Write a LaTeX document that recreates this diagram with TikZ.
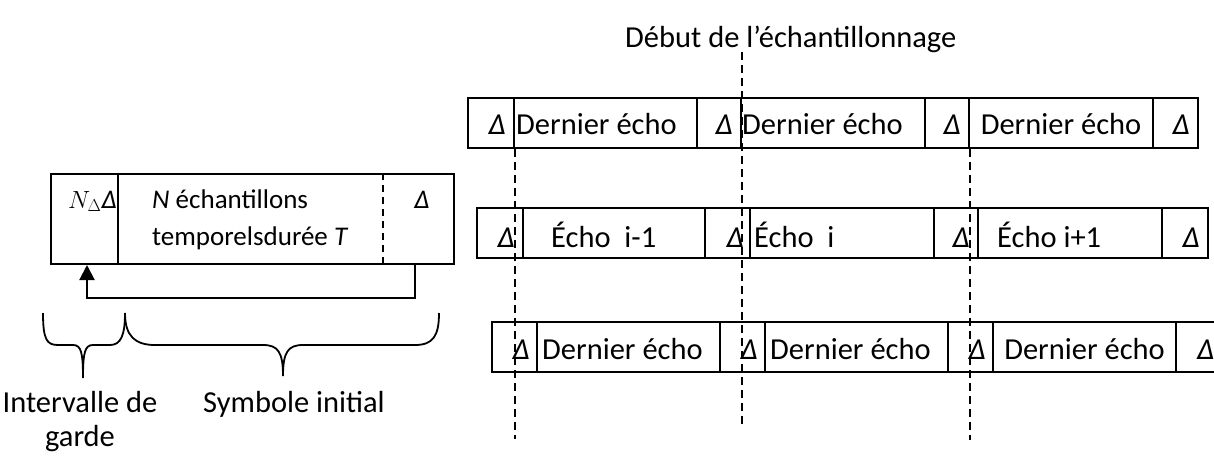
\documentclass[tikz,border=0pt]{standalone}
\usepackage[no-math]{fontspec}
\setmainfont{Carlito}
\usetikzlibrary{arrows.meta}
% italic guard-interval symbol
\newcommand\dlt{\textit{Δ}}
\begin{document}
\begin{tikzpicture}[x=1pt,y=-1pt,
  cell/.style={draw, line width=2pt, minimum height=50pt, inner sep=0pt, anchor=north west},
  bigcell/.style={cell, minimum height=90pt},
  lbl/.style={inner sep=0pt, font=\fontsize{30.5}{36}\selectfont},
  boxlbl/.style={inner sep=0pt, font=\fontsize{27}{37}\selectfont},
  botlbl/.style={inner sep=0pt, font=\fontsize{30.5}{34}\selectfont},
  dline/.style={line width=1.8pt, dash pattern=on 8pt off 5pt},
  arr/.style={line width=2pt, -{Triangle[length=15pt,width=15pt]}},
  brace/.style={line width=1.8pt},
  dR/.style={lbl, anchor=base east, xshift=-9pt, yshift=13pt},
  tL/.style={lbl, anchor=base west, yshift=13pt},
  tC/.style={lbl, anchor=base, yshift=13pt}
]
\useasboundingbox (0,0) rectangle (1214,455);

% ---- OFDM symbol with cyclic prefix ----
\node[bigcell, minimum width=67pt]  (gi)  at (50,173)  {};
\node[bigcell, minimum width=336pt] (sym) at (117,173) {};
\draw[line width=1.8pt, dash pattern=on 7pt off 5pt]
  ([xshift=266pt]sym.north west) -- ([xshift=266pt]sym.south west);
\node[boxlbl, anchor=base east, xshift=-2pt, yshift=-35pt] (nd) at (gi.north east) {$N_{\Delta}$\dlt};
\node[boxlbl, anchor=base west, xshift=35pt, yshift=-35pt] (nt) at (sym.north west)
  {\begin{tabular}[t]{@{}l@{}}\textit{N} échantillons\\temporelsdurée \textit{T}\end{tabular}};
\node[boxlbl, anchor=base, xshift=305pt, yshift=-35pt] (nd2) at (sym.north west) {\dlt};
\draw[arr] ([xshift=298pt]sym.south west) -- ++(0,33) -| ([xshift=37pt]gi.south west);

% ---- braces and their labels ----
\draw[brace] (43,313) .. controls (43,340) and (47,345) .. (58,345) -- (73,345)
  .. controls (81,345) and (83,352) .. (83,378)
  .. controls (83,352) and (85,345) .. (93,345) -- (110,345)
  .. controls (121,345) and (125,335) .. (125,313);
\draw[brace] (125,313) .. controls (125,336) and (135,345) .. (155,345) -- (263,345)
  .. controls (278,345) and (283,352) .. (283,376)
  .. controls (283,352) and (288,345) .. (303,345) -- (415,345)
  .. controls (433,345) and (439,336) .. (439,313);
\node[botlbl, anchor=base] (ig) at (80,412)
  {\begin{tabular}[t]{@{}c@{}}Intervalle de\\garde\end{tabular}};
\node[botlbl, anchor=base] (si) at (294,412) {Symbole initial};

% ---- sampling start ----
\node[lbl, anchor=base west] (title) at (625,47) {Début de l’échantillonnage};

% ---- row 1 ----
\node[cell, minimum width=46pt]  (r1a) at (467,97) {};
\node[cell, minimum width=183pt] (r1b) at (513,97) {};
\node[cell, minimum width=44pt]  (r1c) at (696,97) {};
\node[cell, minimum width=184pt] (r1d) at (740,97) {};
\node[cell, minimum width=44pt]  (r1e) at (924,97) {};
\node[cell, minimum width=184pt] (r1f) at (968,97) {};
\node[cell, minimum width=45pt]  (r1g) at (1152,97) {};
\node[dR, yshift=2pt] at (r1a.south east) {\dlt};
\node[tL, xshift=3pt, yshift=2pt] at (r1b.south west) {Dernier écho};
\node[dR, yshift=2pt] at (r1c.south east) {\dlt};
\node[tL, xshift=2pt, yshift=2pt] at (r1d.south west) {Dernier écho};
\node[dR, yshift=2pt] at (r1e.south east) {\dlt};
\node[tC, yshift=2pt] at (r1f.south) {Dernier écho};
\node[dR, yshift=2pt] at (r1g.south east) {\dlt};

% ---- row 2 ----
\node[cell, minimum width=46pt]  (r2a) at (476,207) {};
\node[cell, minimum width=182pt] (r2b) at (522,207) {};
\node[cell, minimum width=45pt]  (r2c) at (704,207) {};
\node[cell, minimum width=184pt] (r2d) at (749,207) {};
\node[cell, minimum width=44pt]  (r2e) at (933,207) {};
\node[cell, minimum width=184pt] (r2f) at (977,207) {};
\node[cell, minimum width=46pt]  (r2g) at (1161,207) {};
\node[dR, yshift=-1pt] at (r2a.south east) {\dlt};
\node[tL, xshift=29pt, yshift=-1pt] at (r2b.south west) {Écho\ \ i-1};
\node[dR, xshift=2pt, yshift=-1pt] at (r2c.south east) {\dlt};
\node[tL, xshift=5pt, yshift=-1pt] at (r2d.south west) {Écho\ \ i};
\node[dR, yshift=-1pt] at (r2e.south east) {\dlt};
\node[tL, xshift=20pt, yshift=-1pt] at (r2f.south west) {Écho i+1};
\node[dR, yshift=-1pt] at (r2g.south east) {\dlt};

% ---- row 3 ----
\node[cell, minimum width=45pt]  (r3a) at (491,321) {};
\node[cell, minimum width=183pt] (r3b) at (536,321) {};
\node[cell, minimum width=45pt]  (r3c) at (719,321) {};
\node[cell, minimum width=183pt] (r3d) at (764,321) {};
\node[cell, minimum width=45pt]  (r3e) at (947,321) {};
\node[cell, minimum width=183pt] (r3f) at (992,321) {};
\node[cell, minimum width=45pt]  (r3g) at (1175,321) {};
\node[dR, xshift=1pt, yshift=1pt] at (r3a.south east) {\dlt};
\node[tL, xshift=6pt, yshift=1pt] at (r3b.south west) {Dernier écho};
\node[dR, xshift=1pt, yshift=1pt] at (r3c.south east) {\dlt};
\node[tL, xshift=6pt, yshift=1pt] at (r3d.south west) {Dernier écho};
\node[dR, xshift=1pt, yshift=1pt] at (r3e.south east) {\dlt};
\node[tC, yshift=1pt] at (r3f.south) {Dernier écho};
\node[lbl, anchor=base west, xshift=22pt, yshift=14pt] at (r3g.south west) {\dlt};

% ---- sampling instants ----
\draw[dline] (r1a.south east) -- ++(0,290);
\draw[dline] (title.south -| r1c.east) -- ++(0,375);
\draw[dline] (r1e.south east) -- ++(0,291);
\end{tikzpicture}
\end{document}
